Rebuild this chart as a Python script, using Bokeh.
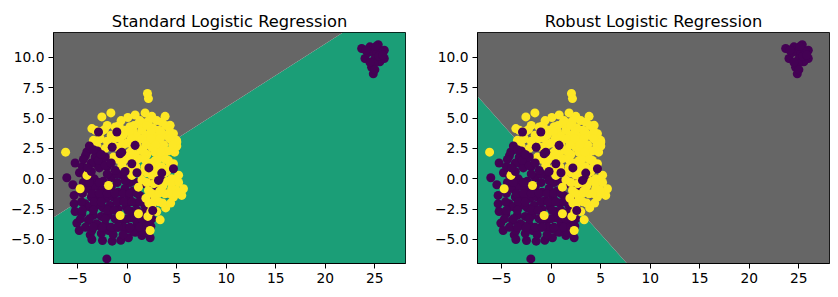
import numpy as np
from bokeh.plotting import figure
from bokeh.layouts import row
from bokeh.models import Range1d, FixedTicker, CustomJSTickFormatter
from bokeh.embed import file_html
from bokeh.resources import INLINE

# ---------------- data ----------------
titles = ["Standard Logistic Regression", "Robust Logistic Regression"]
x_lim = [-7.42, 28.09]
y_lim = [-6.98, 12.06]
x_ticks = [-5, 0, 5, 10, 15, 20, 25]
y_ticks = [-5.0, -2.5, 0.0, 2.5, 5.0, 7.5, 10.0]

# decision functions: w_x*x + w_y*y + b > 0 -> class 1 region (gray)
std_w = [-0.522, 1.0]
std_b = -0.69
rob_w = [0.914, 1.0]
rob_b = -0.02

# class 0 (purple), drawn first
c0_x = [-6.08, -5.47, -5.34, -5.34, -5.24, -5.07, -4.83, -3.72, -3.55, -2.48, -1.5, -0.63, 0.14, 1.49, 2.33,
        -2.04, -3.55, -2.88, -1.87, -1.03, 0.14, 0.98, 1.82, -3.89, -4.56, -4.22, 2.66, 0.82, 1.65, -4.4,
        -3.9, -3.2, -2.5, -1.6, -0.9, -0.2, 0.6, 1.3, -3.6, -2.9, -2.1, -1.4, -0.6, 0.2, 0.9, 1.8,
        -3.8, -3.1, -2.4, -1.7, -0.9, -0.1, 0.5, 1.6, -3.4, -2.6, -1.9, -1.2, -0.4, 0.4, 1.1, 2.0,
        -3.1, -2.2, -0.3, 0.6, -2.6, -1.4, -0.4, 2.4, -3.3, -2.4, -1.6, -0.5, 0.3, 1.6, 3.0, 3.6,
        3.33, 4.0, -0.19, -4.8, -5.24,
        -4.5, -3.5, -2.8, -2.0, -1.2, -0.4, 0.3, 1.0,
        -4.6, -3.3, -2.6, -1.0, -0.3, 0.5, 1.3, 2.2,
        -4.5, -3.4, -2.0, -1.3, 0.1, 1.0, 2.1,
        -4.7, -3.8, -2.2, -0.8, 0.0, 0.8, 1.5, 2.5,
        -4.2, -3.4, -2.5, -1.6, -0.9, 0.3, 1.3, 2.0,
        -3.8, -2.8, -1.0, 1.0, 2.3, -4.3, -3.0, -2.0]
c0_y = [0.09, -0.49, -1.37, -2.06, -2.69, -3.65, -4.26, -4.62, -5.0, -5.08, -5.14, -5.06, -4.86, -4.67, -4.86,
        -6.6, -4.26, -3.85, -4.26, -3.99, -4.12, -3.85, -3.71, -3.44, -2.89, -2.06, -2.61, -4.4, -4.4, -0.3,
        -0.8, -0.6, -0.9, -0.7, -1.1, -0.8, -1.0, -1.4, -1.5, -1.4, -1.6, -1.5, -1.8, -1.6, -2.0, -2.2,
        -2.3, -2.2, -2.4, -2.2, -2.5, -2.3, -2.7, -2.8, -3.0, -3.1, -3.0, -3.3, -3.4, -3.2, -3.5, -3.3,
        -3.7, -3.8, -4.0, -4.3, -4.5, -4.6, -4.6, -3.9, 0.0, -0.2, 0.1, 0.3, -0.3, -0.4, -0.7, -0.2,
        0.0, -1.23, -0.14, 0.5, 1.3,
        -1.2, -1.2, -1.2, -1.2, -1.2, -1.2, -1.2, -1.2,
        -1.9, -1.9, -1.9, -1.9, -1.9, -1.9, -1.9, -1.9,
        -2.6, -2.6, -2.6, -2.6, -2.6, -2.6, -2.6,
        -3.3, -3.3, -3.3, -3.3, -3.3, -3.3, -3.3, -3.3,
        -4.0, -4.0, -4.0, -4.0, -4.0, -4.0, -4.0, -4.0,
        -0.3, -0.3, -0.3, -0.3, -0.3, 0.4, 1.2, 1.0]

# class 1 (yellow)
c1_x = [2.06, 2.16, -2.54, -1.63, -3.55, -2.28, -1.2, 0.08, 0.82, 1.82, 2.5, 3.84, 3.5, 4.35, 1.15,
        0.65, -0.19, 1.49, 2.83, 3.84, 4.68, 5.02, 5.02, -3.39, -3.04, -2.21, -6.2, -0.7, -0.03, 0.82,
        2.16, 3.17, 3.84, 4.17, 4.68, -1.37, 1.15, 2.83, -0.53, 1.82, -3.89, -4.05, -4.73, -1.87, -0.7,
        1.15, 3.34, 2.33, 0.48, 1.15, 2.16, 2.83, 3.84, 4.68, 5.52, 5.69, 4.5, 2.83, 5.0, 0.0,
        0.6, 1.4, 2.0, 2.5, 3.0, 3.5, 4.0, 1.0, 1.9, 2.6, 3.2, -1.0, -0.4, 0.3, 1.7,
        2.3, 3.7, 4.2, 4.5, 3.6, 3.2, 2.5, 1.9, 1.5, 3.9, 2.1, -2.0, -2.7, -1.6, -3.2,
        0.3, -0.2, 2.5, 4.1, 3.3, 2.7, 4.9,
        -0.6, 1.3, 2.2, 3.0, -2.0, -0.8, 0.7, 2.0, 3.9, -2.6, 0.2, 2.4, 3.4, 4.3,
        -1.3, 0.4, 1.5, 2.4, 3.3, 4.3, -0.4, 0.5, 1.0, 1.9, 2.9, 4.6,
        -0.6, 0.3, 1.7, 2.8, 3.4, 4.8, -0.9, 0.6, 1.8, 3.1, 3.9,
        0.9, 2.5, 3.5, 4.3, 1.3, 2.0, 3.0, 3.8, 5.2,
        2.0, 3.0, 4.5, 5.2, 2.5, 3.2, 4.2, 5.0, 2.2, 3.6, 4.4, 3.0, 2.4]
c1_y = [7.03, 6.61, 5.1, 5.43, 4.14, 4.05, 4.27, 5.05, 5.26, 5.43, 5.15, 5.15, 4.68, 4.41, 4.55,
        3.86, 4.0, 4.0, 3.44, 3.58, 3.72, 3.03, 2.7, 3.17, 2.76, 2.49, 2.2, 3.31, 2.94, 2.0,
        3.03, 2.62, 2.2, 1.52, 1.25, 1.79, 1.66, 1.52, 1.1, 0.97, 0.55, 0.28, -0.82, -0.55, -3.02,
        -2.88, -3.38, -4.26, 0.28, -0.69, -0.96, -1.64, -1.23, -1.51, -1.37, -0.82, 0.0, 0.28, 3.17, 2.0,
        1.9, 2.4, 2.0, 2.6, 1.0, 1.8, 0.6, 3.5, 3.6, 4.2, 4.0, 2.6, 3.6, 4.3, 4.6,
        1.3, 2.8, 2.3, -0.8, -0.6, -1.9, -2.2, -1.6, -0.1, -2.4, -3.1, 3.1, 3.3, 3.6, 4.0,
        0.9, 1.6, 0.3, -0.2, -1.0, -0.4, -0.9,
        4.8, 4.8, 4.8, 4.8, 4.4, 4.4, 4.4, 4.4, 4.4, 3.9, 3.9, 3.9, 3.9, 3.9,
        3.3, 3.3, 3.3, 3.3, 3.3, 3.3, 2.8, 2.8, 2.8, 2.8, 2.8, 2.8,
        2.2, 2.2, 2.2, 2.2, 2.2, 2.2, 1.6, 1.6, 1.6, 1.6, 1.6,
        1.0, 1.0, 1.0, 1.0, 0.5, 0.5, 0.5, 0.5, 0.3,
        -0.3, -0.3, -0.3, -0.3, -1.2, -1.2, -1.2, -1.2, -2.0, -2.0, -2.0, -2.7, -2.7]

# class 0 (purple), drawn after the yellow points
c0b_x = [-2.88, -1.03, -4.06, -3.8, -0.7, 0.48, 0.81, -1.03, 4.68, -4.2, -3.22, -2.54, -1.2, 3.5,
         -3.6, -2.8, -2.0, 1.0, 2.2, -3.0, -2.2, -4.5, 3.17, 2.59, -0.53,
         -4.4, -3.6, -2.9, -2.2, -1.6, -3.4, -2.6, -1.5, -0.2, -4.0]
c0b_y = [3.86, 3.86, 2.21, 2.71, 2.07, 1.24, 2.76, 0.42, 0.83, 1.9, 1.79, 1.24, 0.69, 0.47,
         0.6, 0.9, 0.4, 0.5, 0.9, 2.3, 1.8, 1.0, -0.13, -2.61, 2.2,
         1.6, 1.3, 1.5, 1.1, 1.3, 2.4, 2.0, 2.6, 0.6, 0.9]

# outlier cluster (class 0)
out_x = [23.67, 25.34, 25.95, 25.95, 24.84, 24.67, 24.0, 24.5, 24.84, 25.5, 25.0, 24.3, 25.6, 25.1,
         24.9, 25.4, 24.5, 25.8, 24.1, 25.0]
out_y = [10.74, 11.05, 10.6, 9.92, 8.65, 9.2, 9.92, 10.88, 10.47, 9.65, 9.9, 10.4, 10.5, 10.9,
         9.5, 10.1, 9.6, 10.2, 10.6, 9.0]

GREEN = "#1b9e77"
GRAY = "#666666"
PURPLE = "#440154"
YELLOW = "#fde725"
FONT = "DejaVu Sans"


def clip(poly, w, b, sign):
    out = []
    n = len(poly)
    for i in range(n):
        p1, p2 = poly[i], poly[(i + 1) % n]
        f1 = sign * (w[0] * p1[0] + w[1] * p1[1] + b)
        f2 = sign * (w[0] * p2[0] + w[1] * p2[1] + b)
        if f1 >= 0:
            out.append(p1)
        if (f1 >= 0) != (f2 >= 0):
            t = f1 / (f1 - f2)
            out.append((p1[0] + t * (p2[0] - p1[0]), p1[1] + t * (p2[1] - p1[1])))
    return out


def make(title, w, b, left, right):
    p = figure(output_backend="svg", toolbar_location=None,
               frame_width=352, frame_height=231,
               min_border_left=left, min_border_right=right,
               min_border_top=32, min_border_bottom=34,
               x_range=Range1d(*x_lim), y_range=Range1d(*y_lim),
               title=title)
    rect = [(x_lim[0], y_lim[0]), (x_lim[1], y_lim[0]), (x_lim[1], y_lim[1]), (x_lim[0], y_lim[1])]
    for sign, col in ((-1, GREEN), (1, GRAY)):
        poly = clip(rect, w, b, sign)
        if poly:
            p.patch([q[0] for q in poly], [q[1] for q in poly], fill_color=col, line_color=None)
    p.scatter(c0_x, c0_y, size=9, fill_color=PURPLE, line_color=None)
    p.scatter(out_x, out_y, size=9, fill_color=PURPLE, line_color=None)
    p.scatter(c1_x, c1_y, size=9, fill_color=YELLOW, line_color=None)
    p.scatter(c0b_x, c0b_y, size=9, fill_color=PURPLE, line_color=None)

    p.grid.visible = False
    p.outline_line_color = "black"
    p.outline_line_width = 1
    p.background_fill_color = "white"
    p.title.align = "center"
    p.title.text_font = FONT
    p.title.text_font_size = "16.3px"
    p.title.text_font_style = "normal"
    p.title.text_color = "black"
    p.title.standoff = 3

    p.xaxis.ticker = FixedTicker(ticks=x_ticks)
    p.yaxis.ticker = FixedTicker(ticks=y_ticks)
    p.xaxis.formatter = CustomJSTickFormatter(code="return tick.toFixed(0).replace('-', '\u2212');")
    p.yaxis.formatter = CustomJSTickFormatter(code="return tick.toFixed(1).replace('-', '\u2212');")
    for ax in (p.xaxis, p.yaxis):
        ax.major_tick_out = 5
        ax.major_tick_in = 0
        ax.minor_tick_out = 0
        ax.minor_tick_in = 0
        ax.axis_line_color = "black"
        ax.major_tick_line_color = "black"
        ax.major_label_text_font = FONT
        ax.major_label_text_font_size = "13.8px"
        ax.major_label_text_color = "black"
        ax.major_label_standoff = 4
    return p


p1 = make(titles[0], std_w, std_b, 53, 25)
p2 = make(titles[1], rob_w, rob_b, 47, 8)
layout = row(p1, p2)
open("out.html", "w").write(file_html(layout, INLINE))
